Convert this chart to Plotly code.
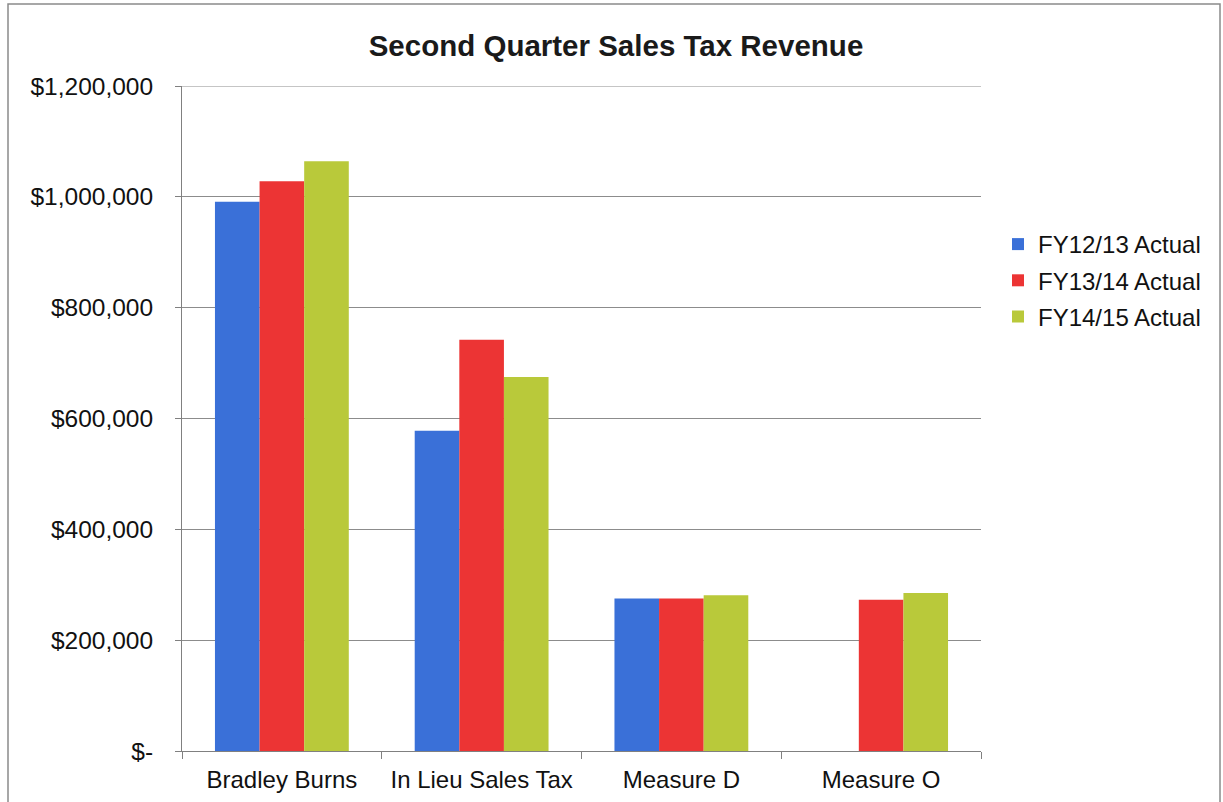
import plotly.graph_objects as go

categories = ["Bradley Burns", "In Lieu Sales Tax", "Measure D", "Measure O"]
series_names = ["FY12/13 Actual", "FY13/14 Actual", "FY14/15 Actual"]
fy1213 = [991000, 578000, 275000, None]
fy1314 = [1028000, 742000, 275000, 273000]
fy1415 = [1064000, 675000, 281000, 285000]
colors = ["#3A70D8", "#EC3434", "#B9C93A"]
y_tickvals = [0, 200000, 400000, 600000, 800000, 1000000, 1200000]
y_ticktext = ["$-", "$200,000", "$400,000", "$600,000", "$800,000", "$1,000,000", "$1,200,000"]
y_max = 1200000

FONT = "Liberation Sans, Arial, sans-serif"

W, H = 1223, 802
L, R, T, B = 182, 242, 86, 51

fig = go.Figure()
for name, vals, col in zip(series_names, [fy1213, fy1314, fy1415], colors):
    fig.add_trace(go.Bar(
        x=categories, y=vals, name=name, legendgroup=name,
        marker=dict(color=col, line=dict(width=0)),
    ))

pw = W - L - R
ph = H - T - B
fig.update_layout(
    width=W, height=H,
    margin=dict(l=L, r=R, t=T, b=B, pad=0, autoexpand=False),
    paper_bgcolor="white", plot_bgcolor="white",
    barmode="group", bargap=0.33, bargroupgap=0,
    font=dict(family=FONT, size=24, color="#111111"),
    title=dict(text="<b>Second Quarter Sales Tax Revenue</b>",
               font=dict(family=FONT, size=29.5, color="#1a1a1a"),
               x=(616 - L) / pw, xref="paper", xanchor="center",
               y=1 - 46 / H, yanchor="middle"),
    legend=dict(x=(998 - L) / pw, xanchor="left", y=(H - B - 222) / ph, yanchor="top",
                font=dict(family=FONT, size=24, color="#111111"),
                tracegroupgap=2, bgcolor="rgba(0,0,0,0)"),
    showlegend=True,
    xaxis=dict(showline=True, linecolor="#808080", linewidth=1, automargin=False,
               ticks="outside", tickson="boundaries", ticklen=7, tickcolor="#808080",
               showgrid=False, tickfont=dict(family=FONT, size=24, color="#111111"),
               ticklabelstandoff=7),
    yaxis=dict(range=[0, y_max], tickvals=y_tickvals, ticktext=y_ticktext, automargin=False,
               showline=True, linecolor="#808080", linewidth=1,
               ticks="outside", ticklen=6, tickcolor="#808080",
               showgrid=True, gridcolor="#8c8c8c", gridwidth=1,
               zeroline=False, tickfont=dict(family=FONT, size=24.5, color="#111111"),
               ticklabelstandoff=17),
    shapes=[dict(type="rect", xref="paper", yref="paper",
                 x0=(8 - L) / pw, x1=(1220 - L) / pw,
                 y0=(H - B - 810) / ph, y1=(H - B - 4) / ph,
                 line=dict(color="#8a8a8a", width=1.5), fillcolor="rgba(0,0,0,0)", layer="below"),
            dict(type="line", xref="paper", yref="y", x0=0, x1=1, y0=y_max, y1=y_max,
                 line=dict(color="#8c8c8c", width=1), layer="below")],
)

fig.write_html("out.html")
